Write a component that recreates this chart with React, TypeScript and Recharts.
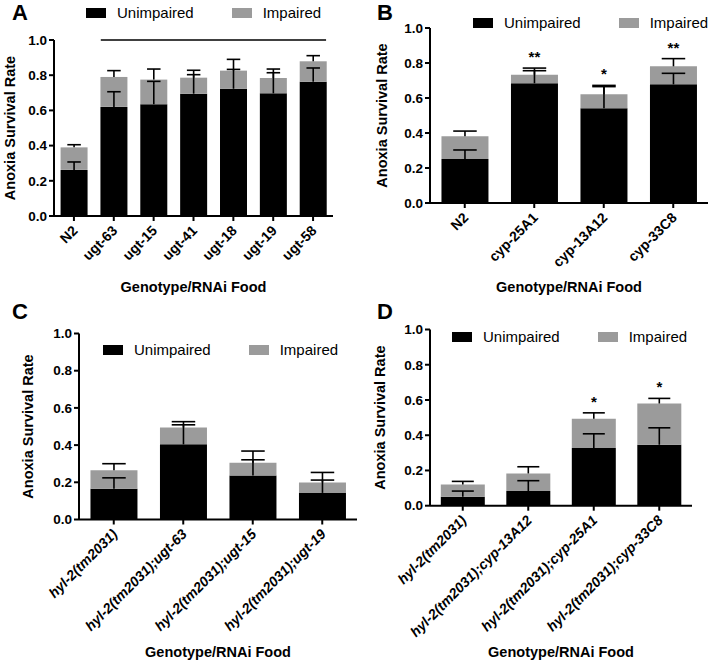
import React from 'react';
import { BarChart, Bar, XAxis, YAxis, Legend, LabelList, ReferenceLine } from 'recharts';

const FONT = '"Liberation Sans", Arial, Helvetica, sans-serif';
const BLACK = '#000000';
const GREY = '#9b9b9b';

const yTicks = [0, 0.2, 0.4, 0.6, 0.8, 1.0];
const legendOrder = ['Unimpaired', 'Impaired'];

// A: ugt RNAi on N2
const catsA = ['N2', 'ugt-63', 'ugt-15', 'ugt-41', 'ugt-18', 'ugt-19', 'ugt-58'];
const unimpA = [0.262, 0.62, 0.635, 0.695, 0.723, 0.697, 0.763];
const impA = [0.128, 0.17, 0.14, 0.091, 0.103, 0.087, 0.116];
const unimpErrA = [0.045, 0.086, 0.13, 0.108, 0.11, 0.117, 0.078];
const impErrA = [0.015, 0.036, 0.06, 0.042, 0.064, 0.051, 0.032];
const starsA = ['', '', '', '', '', '', ''];

// B: cyp RNAi on N2
const catsB = ['N2', 'cyp-25A1', 'cyp-13A12', 'cyp-33C8'];
const unimpB = [0.251, 0.684, 0.541, 0.678];
const impB = [0.13, 0.049, 0.08, 0.103];
const unimpErrB = [0.052, 0.072, 0.124, 0.063];
const impErrB = [0.03, 0.038, 0.051, 0.044];
const starsB = ['', '**', '*', '**'];

// C: hyl-2 with ugt RNAi
const catsC = ['hyl-2(tm2031)', 'hyl-2(tm2031);ugt-63', 'hyl-2(tm2031);ugt-15', 'hyl-2(tm2031);ugt-19'];
const unimpC = [0.165, 0.404, 0.237, 0.143];
const impC = [0.1, 0.091, 0.068, 0.056];
const unimpErrC = [0.059, 0.105, 0.084, 0.069];
const impErrC = [0.035, 0.031, 0.063, 0.054];
const starsC = ['', '', '', ''];

// D: hyl-2 with cyp RNAi
const catsD = ['hyl-2(tm2031)', 'hyl-2(tm2031);cyp-13A12', 'hyl-2(tm2031);cyp-25A1', 'hyl-2(tm2031);cyp-33C8'];
const unimpD = [0.051, 0.083, 0.327, 0.346];
const impD = [0.07, 0.1, 0.166, 0.234];
const unimpErrD = [0.032, 0.059, 0.081, 0.096];
const impErrD = [0.017, 0.038, 0.034, 0.029];
const starsD = ['', '', '*', '*'];

type Row = { cat: string; unimpaired: number; impaired: number; unimpErr: number; impErr: number; star: string };

const makeRows = (cats: string[], u: number[], im: number[], ue: number[], ie: number[], st: string[]): Row[] =>
  cats.map((cat, i) => ({ cat, unimpaired: u[i], impaired: im[i], unimpErr: ue[i], impErr: ie[i], star: st[i] }));

const rowsA = makeRows(catsA, unimpA, impA, unimpErrA, impErrA, starsA);
const rowsB = makeRows(catsB, unimpB, impB, unimpErrB, impErrB, starsB);
const rowsC = makeRows(catsC, unimpC, impC, unimpErrC, impErrC, starsC);
const rowsD = makeRows(catsD, unimpD, impD, unimpErrD, impErrD, starsD);

// error whiskers drawn as floating range bars (upward only, cap at top)
const unimpRange = (d: Row) => [d.unimpaired, d.unimpaired + d.unimpErr];
const totalRange = (d: Row) => [d.unimpaired + d.impaired, d.unimpaired + d.impaired + d.impErr];

const Whisker = (props: any) => {
  const { x, y, width, height } = props;
  const top = Math.min(y, y + height);
  const bottom = Math.max(y, y + height);
  const cx = x + width / 2;
  const cap = width / 4;
  return (
    <g stroke={BLACK} strokeWidth={1.6}>
      <line x1={cx} x2={cx} y1={top} y2={bottom} />
      <line x1={cx - cap} x2={cx + cap} y1={top} y2={top} />
    </g>
  );
};

const XTick = (props: any) => {
  const { x, y, payload, italic } = props;
  return (
    <g transform={`translate(${x + 1},${y + 5})`}>
      <text
        textAnchor="end"
        transform="rotate(-45)"
        dy="0.35em"
        fontSize={14}
        fontWeight="bold"
        fontStyle={italic ? 'italic' : 'normal'}
        fontFamily={FONT}
        fill={BLACK}
      >
        {payload.value}
      </text>
    </g>
  );
};

const LegendBox = (props: any) => {
  const items = (props.payload || [])
    .filter((p: any) => legendOrder.includes(p.value))
    .sort((a: any, b: any) => legendOrder.indexOf(a.value) - legendOrder.indexOf(b.value));
  return (
    <div style={{ display: 'flex', alignItems: 'center', fontFamily: FONT, fontSize: 15, color: BLACK, whiteSpace: 'nowrap', lineHeight: '18px' }}>
      {items.map((it: any, i: number) => (
        <span key={it.value} style={{ display: 'flex', alignItems: 'center', marginLeft: i ? 38 : 0 }}>
          <span style={{ display: 'inline-block', width: 20, height: 10, background: it.color, marginRight: 11 }} />
          {it.value}
        </span>
      ))}
    </div>
  );
};

interface PanelProps {
  letter: string;
  rows: Row[];
  box: { x: number; y: number; w: number; h: number };
  plot: { left: number; right: number; top: number; bottom: number };
  yTitleX: number;
  xTitleBase: number;
  legendAt: { x: number; y: number };
  letterAt: { x: number; y: number };
  italic?: boolean;
  sigLine?: [string, string];
}

const Panel: React.FC<PanelProps> = ({ letter, rows, box, plot, yTitleX, xTitleBase, legendAt, letterAt, italic, sigLine }) => {
  const margin = { top: plot.top - box.y, right: box.x + box.w - plot.right, left: 0, bottom: 0 };
  const xAxisHeight = box.y + box.h - plot.bottom;
  const yAxisWidth = plot.left - box.x;
  const titleStyle = { fill: BLACK, fontSize: 14.5, fontWeight: 'bold', fontFamily: FONT };
  return (
    <>
      <div style={{ position: 'absolute', left: letterAt.x, top: letterAt.y, fontFamily: FONT, fontWeight: 'bold', fontSize: 22, lineHeight: 'normal' }}>
        {letter}
      </div>
      <div style={{ position: 'absolute', left: box.x, top: box.y }}>
        <BarChart width={box.w} height={box.h} data={rows} margin={margin} barCategoryGap="16.5%">
          <XAxis
            dataKey="cat"
            interval={0}
            height={xAxisHeight}
            axisLine={{ stroke: BLACK, strokeWidth: 2 }}
            tickLine={{ stroke: BLACK, strokeWidth: 2 }}
            tickSize={5}
            tick={(p: any) => <XTick {...p} italic={italic} />}
            label={{ value: 'Genotype/RNAi Food', position: 'insideBottom', offset: box.y + box.h - xTitleBase, ...titleStyle }}
          />
          <XAxis xAxisId="w1" dataKey="cat" hide />
          <XAxis xAxisId="w2" dataKey="cat" hide />
          <YAxis
            domain={[0, 1]}
            ticks={yTicks}
            width={yAxisWidth}
            tickFormatter={(v: number) => v.toFixed(1)}
            axisLine={{ stroke: BLACK, strokeWidth: 2 }}
            tickLine={{ stroke: BLACK, strokeWidth: 2 }}
            tickSize={5}
            tick={{ fill: BLACK, fontSize: 13.5, fontWeight: 'bold', fontFamily: FONT }}
            label={{ value: 'Anoxia Survival Rate', angle: -90, position: 'insideLeft', offset: yTitleX - box.x, ...titleStyle, style: { textAnchor: 'middle' } }}
          />
          <Legend
            layout="horizontal"
            verticalAlign="middle"
            align="center"
            content={<LegendBox />}
            wrapperStyle={{ left: legendAt.x - box.x, top: legendAt.y - box.y - 9, width: 'auto', height: 'auto' }}
          />
          <Bar dataKey="unimpaired" name="Unimpaired" stackId="s" fill={BLACK} isAnimationActive={false} />
          <Bar dataKey="impaired" name="Impaired" stackId="s" fill={GREY} isAnimationActive={false} />
          <Bar xAxisId="w1" dataKey={unimpRange} name="unimpErr" fill={BLACK} legendType="none" shape={Whisker} isAnimationActive={false} />
          <Bar xAxisId="w2" dataKey={totalRange} name="impErr" fill={BLACK} legendType="none" shape={Whisker} isAnimationActive={false}>
            <LabelList dataKey="star" position="top" offset={6} fill={BLACK} fontSize={15} fontWeight="bold" fontFamily={FONT} />
          </Bar>
          {sigLine && (
            <ReferenceLine
              segment={[{ x: sigLine[0], y: 1 }, { x: sigLine[1], y: 1 }]}
              stroke={BLACK}
              strokeWidth={1.5}
              shape={(p: any) => <line x1={p.x1 - 13} x2={p.x2 + 13} y1={p.y1} y2={p.y2} stroke={BLACK} strokeWidth={1.5} />}
            />
          )}
        </BarChart>
      </div>
    </>
  );
};

export default function App() {
  return (
    <div style={{ position: 'absolute', left: 0, top: 0, width: 711, height: 662, background: '#fff' }}>
      <Panel
        letter="A"
        rows={rowsA}
        box={{ x: 0, y: 0, w: 355, h: 320 }}
        plot={{ left: 54, right: 333, top: 40, bottom: 216 }}
        yTitleX={10}
        xTitleBase={292}
        legendAt={{ x: 86, y: 13 }}
        letterAt={{ x: 12, y: 0 }}
        sigLine={['ugt-63', 'ugt-58']}
      />
      <Panel
        letter="B"
        rows={rowsB}
        box={{ x: 355, y: 0, w: 356, h: 320 }}
        plot={{ left: 430, right: 708, top: 28, bottom: 203 }}
        yTitleX={382}
        xTitleBase={292}
        legendAt={{ x: 473, y: 23 }}
        letterAt={{ x: 377, y: 0 }}
      />
      <Panel
        letter="C"
        rows={rowsC}
        box={{ x: 0, y: 320, w: 360, h: 342 }}
        plot={{ left: 79, right: 357, top: 333.5, bottom: 519.5 }}
        yTitleX={28}
        xTitleBase={657}
        legendAt={{ x: 103, y: 350 }}
        letterAt={{ x: 12, y: 299 }}
        italic
      />
      <Panel
        letter="D"
        rows={rowsD}
        box={{ x: 355, y: 320, w: 356, h: 342 }}
        plot={{ left: 430, right: 692, top: 329.5, bottom: 505.7 }}
        yTitleX={380}
        xTitleBase={657}
        legendAt={{ x: 452, y: 337 }}
        letterAt={{ x: 377, y: 299 }}
        italic
      />
    </div>
  );
}
